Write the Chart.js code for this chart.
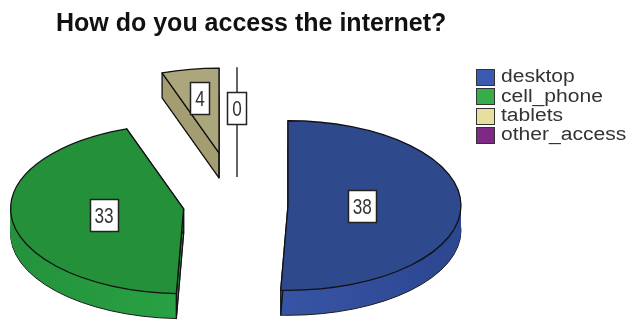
<!DOCTYPE html>
<html>
<head>
<meta charset="utf-8">
<script src="https://cdn.jsdelivr.net/npm/chart.js@4/dist/chart.umd.min.js"></script>
<style>
  html, body { margin: 0; padding: 0; background: #ffffff; }
  #wrap { width: 631px; height: 320px; }
</style>
</head>
<body>
<div id="wrap"><canvas id="chart" width="631" height="320"></canvas></div>
<script>
// Survey answers
const chartTitle = 'How do you access the internet?';
const categories = ['desktop', 'cell_phone', 'tablets', 'other_access'];
const counts = [38, 33, 4, 0];

// Styling
const faceColors   = ['#2E498C', '#24903A', '#ABA67B', '#7E2A84'];
const sideLeft     = ['#4262B8', '#24923C', '#A39D71', '#8A3590'];
const sideRight    = ['#2C4690', '#2EB04B', '#A8A276', '#6A2270'];
const legendColors = ['#3B59AE', '#35AD48', '#E6DF9E', '#7E2A84'];
const explode      = [51, 54, 108, 108];       // radial pull-out of each slice
const labelRadius  = [0.43, 0.465, 0.66, 0.52]; // label distance as share of radius
const SQUASH = 0.49;   // vertical tilt of the disc
const DEPTH = 25;      // thickness of the disc in px
const RADIUS = 173;

function midAngle(a) { return (a.startAngle + a.endAngle) / 2; }

// Logical (round) coordinates -> tilted screen coordinates
function toScreen(cy, x, y) { return { x: x, y: cy + (y - cy) * SQUASH }; }

const pie3d = {
  id: 'pie3d',
  beforeDatasetsDraw(chart) {
    const ctx = chart.ctx;
    const arcs = chart.getDatasetMeta(0).data;
    const cy = arcs[0].y;

    const place = (i, shift) => {
      const a = arcs[i];
      const m = midAngle(a);
      ctx.translate(0, cy + shift);
      ctx.scale(1, SQUASH);
      ctx.translate(0, -cy);
      ctx.translate(Math.cos(m) * explode[i], Math.sin(m) * explode[i]);
    };
    const wedge = (a) => {
      ctx.beginPath();
      ctx.moveTo(a.x, a.y);
      ctx.arc(a.x, a.y, a.outerRadius, a.startAngle, a.endAngle);
      ctx.closePath();
    };
    const origin = (a, i) => {
      const m = midAngle(a);
      return { x: a.x + Math.cos(m) * explode[i], y: a.y + Math.sin(m) * explode[i] };
    };

    // side walls
    arcs.forEach((a, i) => {
      if (a.endAngle - a.startAngle <= 0) return;
      const g = ctx.createLinearGradient(a.x - a.outerRadius, 0, a.x + a.outerRadius, 0);
      g.addColorStop(0, sideLeft[i]);
      g.addColorStop(1, sideRight[i]);
      for (let s = DEPTH; s >= 1; s--) {
        ctx.save();
        place(i, s);
        wedge(a);
        ctx.fillStyle = g;
        ctx.fill();
        ctx.restore();
        if (s === DEPTH) {
          ctx.save();
          ctx.strokeStyle = '#1b1b1b';
          ctx.lineWidth = 1;
          ctx.stroke();
          ctx.restore();
        }
      }
    });

    // cut faces along the two straight edges of each slice
    arcs.forEach((a, i) => {
      if (a.endAngle - a.startAngle <= 0) return;
      const o = origin(a, i);
      const c = toScreen(cy, o.x, o.y);
      [a.startAngle, a.endAngle].forEach(ang => {
        const r = toScreen(cy, o.x + Math.cos(ang) * a.outerRadius, o.y + Math.sin(ang) * a.outerRadius);
        ctx.save();
        ctx.beginPath();
        ctx.moveTo(c.x, c.y);
        ctx.lineTo(r.x, r.y);
        ctx.lineTo(r.x, r.y + DEPTH);
        ctx.lineTo(c.x, c.y + DEPTH);
        ctx.closePath();
        ctx.fillStyle = sideLeft[i];
        ctx.fill();
        ctx.strokeStyle = '#151515';
        ctx.lineWidth = 1.3;
        ctx.lineJoin = 'round';
        ctx.stroke();
        ctx.restore();
      });
    });

    // top faces, drawn by the arc elements themselves
    arcs.forEach((a, i) => {
      if (a.endAngle - a.startAngle <= 0) return;
      ctx.save();
      place(i, 0);
      a.draw(ctx);
      wedge(a);
      ctx.restore();
      ctx.save();
      ctx.strokeStyle = '#111111';
      ctx.lineWidth = 1.3;
      ctx.lineJoin = 'round';
      ctx.stroke();
      ctx.restore();
    });

    // zero-size slice shows up as a single edge
    arcs.forEach((a, i) => {
      if (a.endAngle - a.startAngle > 0) return;
      const o = origin(a, i);
      const apex = toScreen(cy, o.x, o.y);
      const rim = toScreen(cy, o.x + Math.cos(a.startAngle) * a.outerRadius,
                               o.y + Math.sin(a.startAngle) * a.outerRadius);
      ctx.save();
      ctx.strokeStyle = '#222222';
      ctx.lineWidth = 1.4;
      ctx.beginPath();
      ctx.moveTo(rim.x, rim.y);
      ctx.lineTo(apex.x, apex.y + DEPTH);
      ctx.stroke();
      ctx.restore();
    });
    return false;
  },
  afterDraw(chart) {
    const ctx = chart.ctx;
    const arcs = chart.getDatasetMeta(0).data;
    const cy = arcs[0].y;

    // title
    ctx.save();
    ctx.fillStyle = '#111111';
    ctx.font = 'bold 25px "Liberation Sans", Arial, sans-serif';
    ctx.textBaseline = 'alphabetic';
    ctx.textAlign = 'left';
    ctx.fillText(chartTitle, 56, 31);
    ctx.restore();

    // value labels
    arcs.forEach((a, i) => {
      const m = midAngle(a);
      const d = a.outerRadius * labelRadius[i];
      const p = toScreen(cy, a.x + Math.cos(m) * (explode[i] + d),
                             a.y + Math.sin(m) * (explode[i] + d));
      const txt = String(counts[i]);
      ctx.save();
      ctx.font = '22px "Liberation Sans", Arial, sans-serif';
      const tw = ctx.measureText(txt).width * 0.78;
      const bw = Math.round(tw + 9), bh = 32;
      const bx = Math.round(p.x - bw / 2) + 0.5, by = Math.round(p.y - bh / 2) + 0.5;
      ctx.fillStyle = '#ffffff';
      ctx.fillRect(bx, by, bw, bh);
      ctx.strokeStyle = '#222222';
      ctx.lineWidth = 1.5;
      ctx.strokeRect(bx, by, bw, bh);
      ctx.translate(p.x, p.y + 8);
      ctx.scale(0.78, 1);
      ctx.fillStyle = '#333333';
      ctx.textAlign = 'center';
      ctx.textBaseline = 'alphabetic';
      ctx.fillText(txt, 0, 0);
      ctx.restore();
    });

    // legend
    categories.forEach((name, i) => {
      const top = 69 + i * 19.3;
      ctx.save();
      ctx.fillStyle = legendColors[i];
      ctx.fillRect(476.5, Math.round(top) + 0.5, 18, 16);
      ctx.strokeStyle = '#333333';
      ctx.lineWidth = 1;
      ctx.strokeRect(476.5, Math.round(top) + 0.5, 18, 16);
      ctx.translate(501, top + 13.2);
      ctx.scale(1.17, 1);
      ctx.fillStyle = '#333333';
      ctx.font = '18px "Liberation Sans", Arial, sans-serif';
      ctx.textBaseline = 'alphabetic';
      ctx.fillText(name, 0, 0);
      ctx.restore();
    });
  }
};

new Chart(document.getElementById('chart'), {
  type: 'pie',
  data: {
    labels: categories,
    datasets: [{
      data: counts,
      backgroundColor: faceColors,
      borderWidth: 0,
      offset: 0,
      radius: RADIUS
    }]
  },
  options: {
    responsive: false,
    animation: false,
    events: [],
    layout: { padding: { left: 0, right: 157, top: 90, bottom: 0 } },
    plugins: {
      legend: { display: false },
      title: { display: false },
      tooltip: { enabled: false }
    }
  },
  plugins: [pie3d]
});
</script>
</body>
</html>
